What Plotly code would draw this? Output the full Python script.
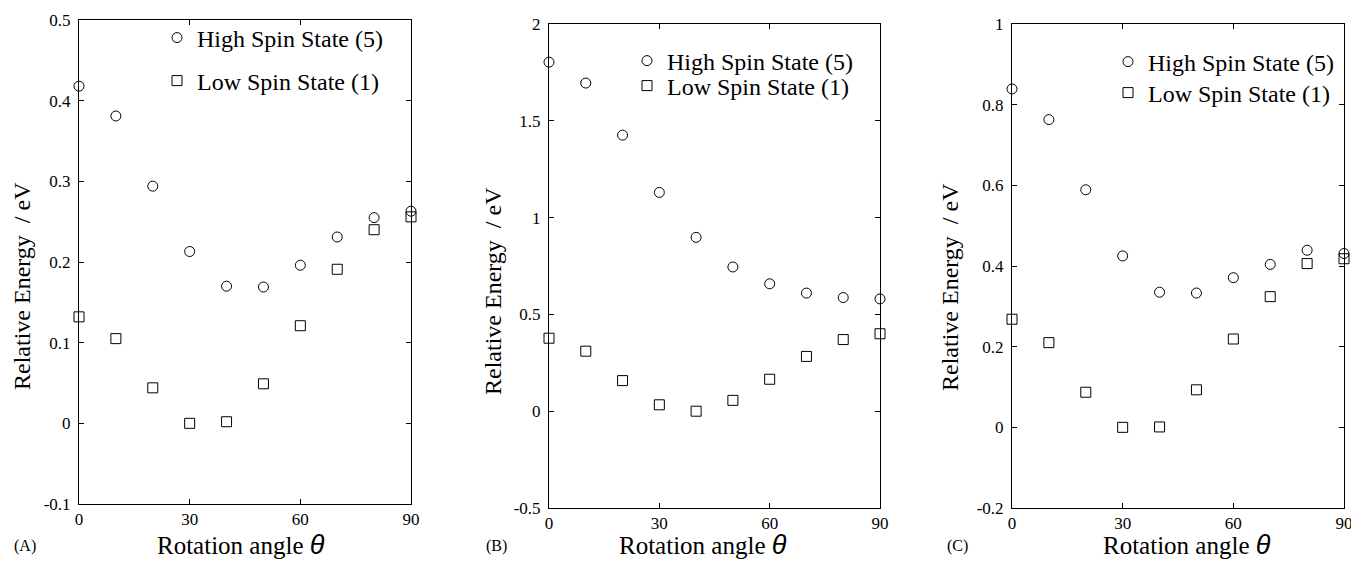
import plotly.graph_objects as go

W, H = 1351, 564

angles = [0, 10, 20, 30, 40, 50, 60, 70, 80, 90]

high_A = [0.418, 0.381, 0.294, 0.213, 0.170, 0.169, 0.196, 0.231, 0.255, 0.263]
low_A = [0.132, 0.105, 0.044, 0.000, 0.002, 0.049, 0.121, 0.191, 0.240, 0.256]

high_B = [1.803, 1.695, 1.426, 1.130, 0.898, 0.745, 0.658, 0.610, 0.587, 0.580]
low_B = [0.377, 0.310, 0.158, 0.033, 0.000, 0.056, 0.165, 0.283, 0.370, 0.400]

high_C = [0.839, 0.763, 0.589, 0.425, 0.335, 0.333, 0.371, 0.404, 0.439, 0.431]
low_C = [0.268, 0.210, 0.087, 0.000, 0.001, 0.093, 0.219, 0.324, 0.406, 0.418]

x_ticks = [0, 30, 60, 90]
y_ticks_A = [-0.1, 0, 0.1, 0.2, 0.3, 0.4, 0.5]
y_labels_A = ["-0.1", "0", "0.1", "0.2", "0.3", "0.4", "0.5"]
y_ticks_B = [-0.5, 0, 0.5, 1, 1.5, 2]
y_labels_B = ["-0.5", "0", "0.5", "1", "1.5", "2"]
y_ticks_C = [-0.2, 0, 0.2, 0.4, 0.6, 0.8, 1]
y_labels_C = ["-0.2", "0", "0.2", "0.4", "0.6", "0.8", "1"]

high_name = "High Spin State (5)"
low_name = "Low Spin State (1)"
panel_labels = ["(A)", "(B)", "(C)"]
x_title = ("Rotation angle <span style=\"font-family:'Liberation Sans', Arial, sans-serif;"
           "font-size:27px\"><i>θ</i></span>")
y_title = "Relative Energy  / eV"

FONT = "'Liberation Serif', 'Times New Roman', Times, serif"

def px_x(p):
    return p / W

def px_y(p):
    return 1 - p / H

panels = [
    dict(high=high_A, low=low_A, yt=y_ticks_A, yl=y_labels_A, rng=[-0.1, 0.5],
         x0=79, x1=411, y0=20, y1=504,
         leg_hi=(177, 39), leg_lo=(177, 82),
         ytitle=(22, 286), xtitle=(241, 545), lab=(25, 546)),
    dict(high=high_B, low=low_B, yt=y_ticks_B, yl=y_labels_B, rng=[-0.5, 2],
         x0=549, x1=880, y0=24, y1=508,
         leg_hi=(647, 62), leg_lo=(647, 87),
         ytitle=(493, 291), xtitle=(703, 545), lab=(496, 546)),
    dict(high=high_C, low=low_C, yt=y_ticks_C, yl=y_labels_C, rng=[-0.2, 1],
         x0=1012, x1=1344, y0=24, y1=508,
         leg_hi=(1128, 63), leg_lo=(1128, 94),
         ytitle=(950, 287), xtitle=(1187, 545), lab=(957, 546)),
]

fig = go.Figure()
layout = dict(
    width=W, height=H,
    margin=dict(l=0, r=0, t=0, b=0, autoexpand=False),
    paper_bgcolor="white", plot_bgcolor="white",
    font=dict(family=FONT, size=17, color="black"),
    showlegend=True,
    annotations=[],
)

leg_idx = 0
for i, p in enumerate(panels):
    sfx = "" if i == 0 else str(i + 1)
    xa, ya = "x" + sfx, "y" + sfx
    for series, name, sym, legpos in [(p["high"], high_name, "circle-open", p["leg_hi"]),
                                      (p["low"], low_name, "square-open", p["leg_lo"])]:
        leg_idx += 1
        lname = "legend" if leg_idx == 1 else f"legend{leg_idx}"
        fig.add_trace(go.Scatter(
            x=angles, y=series, mode="markers", name=name,
            xaxis=xa, yaxis=ya, cliponaxis=False, legend=lname, showlegend=True,
            marker=dict(symbol=sym, size=10, color="black", line=dict(width=1, color="black")),
        ))
        layout[lname] = dict(
            x=px_x(legpos[0] - 20), y=px_y(legpos[1] - 1), xanchor="left", yanchor="middle",
            bgcolor="rgba(0,0,0,0)", borderwidth=0, visible=True,
            font=dict(family=FONT, size=24, color="black"),
        )
    axis_common = dict(
        showline=True, linecolor="black", linewidth=1, mirror="ticks",
        ticks="inside", ticklen=5, tickcolor="black", tickwidth=1,
        showgrid=False, zeroline=False, automargin=False,
        ticklabeloverflow="allow",
        tickfont=dict(family=FONT, size=17, color="black"),
    )
    layout["xaxis" + sfx] = dict(
        axis_common, domain=[px_x(p["x0"]), px_x(p["x1"])], range=[0, 90],
        tickmode="array", tickvals=x_ticks, ticktext=[str(v) for v in x_ticks],
        anchor=ya,
    )
    layout["yaxis" + sfx] = dict(
        axis_common, domain=[px_y(p["y1"]), px_y(p["y0"])], range=p["rng"],
        tickmode="array", tickvals=p["yt"], ticktext=p["yl"],
        anchor=xa, ticklabelstandoff=4,
    )
    layout["annotations"] += [
        dict(text=y_title, x=px_x(p["ytitle"][0]), y=px_y(p["ytitle"][1]),
             xref="paper", yref="paper", showarrow=False, textangle=-90,
             xanchor="center", yanchor="middle", font=dict(family=FONT, size=24)),
        dict(text=x_title, x=px_x(p["xtitle"][0]), y=px_y(p["xtitle"][1]),
             xref="paper", yref="paper", showarrow=False,
             xanchor="center", yanchor="middle", font=dict(family=FONT, size=25)),
        dict(text=panel_labels[i], x=px_x(p["lab"][0]), y=px_y(p["lab"][1]),
             xref="paper", yref="paper", showarrow=False,
             xanchor="center", yanchor="middle", font=dict(family=FONT, size=16)),
    ]

fig.update_layout(**layout)
fig.write_html(
    "out.html",
    config={"displayModeBar": False},
    post_script="document.body.style.margin='0';document.body.style.overflow='hidden';",
)
